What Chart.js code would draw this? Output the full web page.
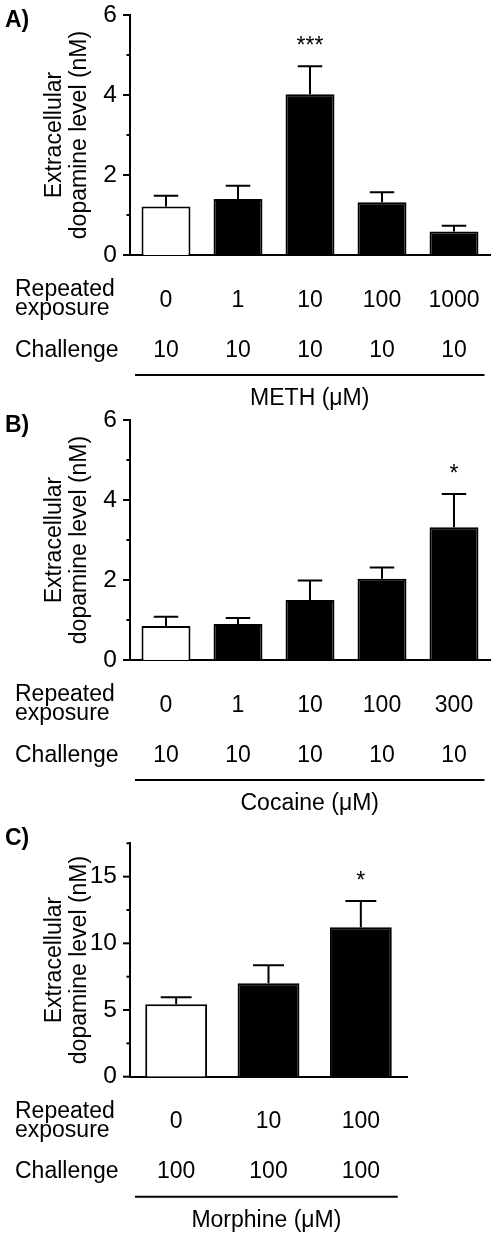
<!DOCTYPE html>
<html>
<head>
<meta charset="utf-8">
<script src="https://cdn.jsdelivr.net/npm/chart.js@4/dist/chart.umd.min.js"></script>
<style>
  html, body { margin: 0; padding: 0; background: #fff; }
  body { width: 495px; height: 1236px; position: relative; overflow: hidden; }
  canvas { position: absolute; left: 0; }
</style>
</head>
<body>
<canvas id="panelA" width="495" height="410" style="top:0px"></canvas>
<canvas id="panelB" width="495" height="415" style="top:410px"></canvas>
<canvas id="panelC" width="495" height="411" style="top:825px"></canvas>
<script>
// Panel A : METH
const methRepeated = ['0', '1', '10', '100', '1000']
const methChallenge = ['10', '10', '10', '10', '10']
const methMean = [1.21, 1.40, 4.02, 1.32, 0.59]
const methSem = [0.27, 0.33, 0.70, 0.25, 0.14]
const methStars = ['', '', '***', '', '']

// Panel B : Cocaine
const cocRepeated = ['0', '1', '10', '100', '300']
const cocChallenge = ['10', '10', '10', '10', '10']
const cocMean = [0.85, 0.90, 1.50, 2.03, 3.32]
const cocSem = [0.23, 0.15, 0.49, 0.28, 0.83]
const cocStars = ['', '', '', '', '*']

// Panel C : Morphine
const morRepeated = ['0', '10', '100']
const morChallenge = ['100', '100', '100']
const morMean = [5.43, 7.00, 11.20]
const morSem = [0.53, 1.36, 1.98]
const morStars = ['', '', '*']

const FONT = '"Liberation Sans", Arial, sans-serif'
const SIZE = 23

// draws error bars, stars, short ticks, the table under the axis and the drug line
function panelPlugin(p) {
  return {
    id: 'panel' + p.letter,
    afterDatasetsDraw(chart) {
      const ctx = chart.ctx
      const y = chart.scales.y
      const meta = chart.getDatasetMeta(0)
      ctx.save()
      ctx.strokeStyle = '#000'
      ctx.lineWidth = 2
      meta.data.forEach((bar, i) => {
        const top = y.getPixelForValue(p.mean[i])
        const errTop = y.getPixelForValue(p.mean[i] + p.sem[i])
        const half = bar.width / 4
        ctx.beginPath()
        ctx.moveTo(bar.x, top)
        ctx.lineTo(bar.x, errTop)
        ctx.moveTo(bar.x - half, errTop)
        ctx.lineTo(bar.x + half, errTop)
        ctx.stroke()
        if (p.stars[i]) {
          ctx.fillStyle = '#000'
          ctx.font = SIZE + 'px ' + FONT
          ctx.textAlign = 'center'
          ctx.textBaseline = 'alphabetic'
          ctx.fillText(p.stars[i], bar.x, errTop - 13)
        }
      })
      ctx.restore()
    },
    afterDraw(chart) {
      const ctx = chart.ctx
      const x = chart.scales.x
      const y = chart.scales.y
      const z = y.getPixelForValue(0)
      const area = chart.chartArea
      ctx.save()
      ctx.strokeStyle = '#000'
      ctx.fillStyle = '#000'
      ctx.lineWidth = 2

      // tick marks on the left of the y axis (long for labelled ones)
      y.ticks.forEach(t => {
        const py = y.getPixelForValue(t.value)
        const len = (t.value % p.major === 0) ? 7 : 3.5
        ctx.beginPath()
        ctx.moveTo(area.left - len, py)
        ctx.lineTo(area.left, py)
        ctx.stroke()
      })

      // panel letter
      ctx.font = 'bold ' + SIZE + 'px ' + FONT
      ctx.textAlign = 'left'
      ctx.textBaseline = 'alphabetic'
      ctx.fillText(p.letter + ')', 5, p.letterY)

      // table under the x axis
      ctx.font = SIZE + 'px ' + FONT
      ctx.fillText('Repeated', 15, z + 41)
      ctx.fillText('exposure', 15, z + 60)
      ctx.fillText('Challenge', 15, z + 101.5)
      ctx.textAlign = 'center'
      p.repeated.forEach((r, i) => {
        const px = x.getPixelForValue(i)
        ctx.fillText(r, px, z + 51.5)
        ctx.fillText(p.challenge[i], px, z + 101.5)
      })

      const bars = chart.getDatasetMeta(0).data
      const last = bars[bars.length - 1]
      const x0 = area.left + 5
      const x1 = last.x + last.width / 2 + 6
      ctx.beginPath()
      ctx.moveTo(x0, z + 120)
      ctx.lineTo(x1, z + 120)
      ctx.stroke()
      ctx.fillText(p.drug, (x0 + x1) / 2, z + 150)
      ctx.restore()
    }
  }
}

function makePanel(id, p) {
  new Chart(document.getElementById(id), {
    type: 'bar',
    data: {
      labels: p.repeated,
      datasets: [{
        data: p.mean,
        backgroundColor: p.mean.map((v, i) => i === 0 ? '#ffffff' : '#000000'),
        borderColor: '#000',
        borderWidth: 2,
        barPercentage: p.barPct,
        categoryPercentage: 1
      }]
    },
    options: {
      responsive: false,
      animation: false,
      devicePixelRatio: 1,
      layout: { padding: p.padding },
      plugins: { legend: { display: false }, tooltip: { enabled: false } },
      scales: {
        x: {
          grid: { display: false, drawTicks: false },
          ticks: { display: false },
          border: { display: true, color: '#000', width: 2 },
          afterFit(s) { s.height = 0; s.paddingLeft = 0; s.paddingRight = 0; s.paddingTop = 0; s.paddingBottom = 0 }
        },
        y: {
          min: 0,
          max: p.max,
          grid: { display: false, drawTicks: false },
          border: { display: true, color: '#000', width: 2 },
          ticks: {
            stepSize: p.step,
            padding: 13,
            color: '#000',
            font: { family: FONT, size: 24.5 },
            callback: v => (v % p.major === 0) ? String(v) : ''
          },
          title: {
            display: true,
            text: ['Extracellular', 'dopamine level (nM)'],
            color: '#000',
            font: { family: FONT, size: SIZE, lineHeight: 1.1 },
            padding: { top: 42, bottom: 0 }
          },
          afterFit(s) { s.width = 130; s.paddingTop = 0; s.paddingBottom = 0; s.paddingLeft = 0; s.paddingRight = 0 }
        }
      }
    },
    plugins: [panelPlugin(p)]
  })
}

makePanel('panelA', {
  letter: 'A', letterY: 27, drug: 'METH (\u03bcM)',
  repeated: methRepeated, challenge: methChallenge, mean: methMean, sem: methSem, stars: methStars,
  max: 6, step: 1, major: 2, barPct: 0.68,
  padding: { top: 15, bottom: 155, left: 0, right: 5 }
})

makePanel('panelB', {
  letter: 'B', letterY: 22, drug: 'Cocaine (\u03bcM)',
  repeated: cocRepeated, challenge: cocChallenge, mean: cocMean, sem: cocSem, stars: cocStars,
  max: 6, step: 1, major: 2, barPct: 0.68,
  padding: { top: 10, bottom: 165, left: 0, right: 5 }
})

makePanel('panelC', {
  letter: 'C', letterY: 20, drug: 'Morphine (\u03bcM)',
  repeated: morRepeated, challenge: morChallenge, mean: morMean, sem: morSem, stars: morStars,
  max: 17.5, step: 2.5, major: 5, barPct: 0.67,
  padding: { top: 18.3, bottom: 159.3, left: 0, right: 88 }
})
</script>
</body>
</html>
